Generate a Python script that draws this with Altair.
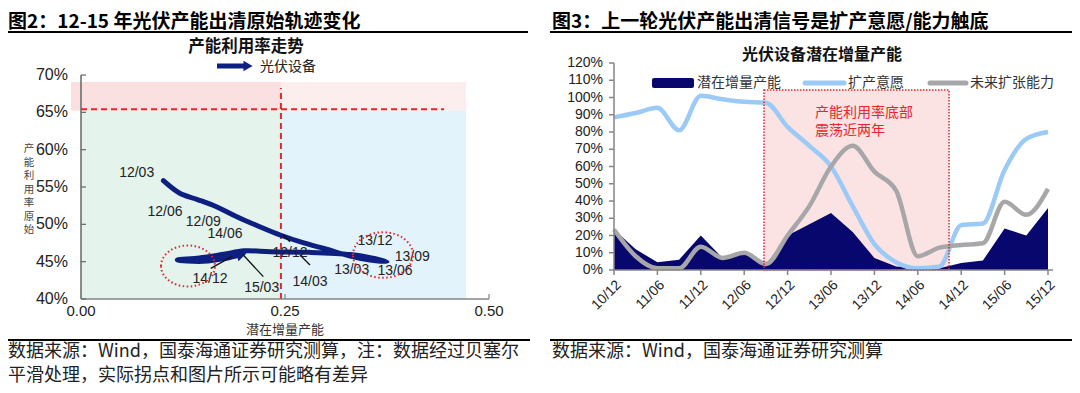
import altair as alt
import pandas as pd

CJK = "Noto Sans CJK SC"
LAT = "Liberation Sans"
NAVY = "#0d1f80"
AREA_NAVY = "#08076e"
BLUE = "#9ccaf6"
GRAY = "#a7a7aa"
RED = "#e6262c"
AXC = "#858585"

# ---------------- Figure 2 data: 产能利用率走势 ----------------
traj_x = [0.101, 0.121, 0.142, 0.166, 0.191, 0.219, 0.244, 0.272, 0.301, 0.330, 0.354, 0.375,
          0.356, 0.330, 0.280, 0.232, 0.200, 0.175, 0.145, 0.118, 0.150, 0.180, 0.192]
traj_y = [55.84, 54.16, 53.35, 52.36, 51.02, 49.68, 48.57, 47.54, 46.66, 45.76, 45.22, 45.00,
          45.50, 45.95, 46.25, 46.34, 46.45, 46.00, 45.50, 45.22, 45.05, 45.50, 45.80]
arrow_x = [0.197]
arrow_y = [45.95]

label_text = ["12/03", "12/06", "12/09", "14/06", "14/12", "15/03",
              "12/12", "14/03", "13/03", "13/06", "13/09", "13/12"]
label_x = [0.0682, 0.1029, 0.1499, 0.1765, 0.1581, 0.2214,
           0.2561, 0.2806, 0.3317, 0.3848, 0.4060, 0.3603]
label_y = [56.83, 51.70, 50.35, 48.70, 42.63, 41.51,
           46.12, 42.28, 43.88, 43.70, 45.60, 47.81]

lead_x1 = [0.159, 0.2234, 0.2806, 0.2479]
lead_y1 = [44.11, 42.99, 44.55, 48.57]
lead_x2 = [0.1847, 0.1989, 0.2684, 0.2561]
lead_y2 = [45.67, 45.89, 45.89, 47.67]

circle_x = [0.1311, 0.3701]
circle_y = [44.42, 45.89]

zone_name = ["pinkL", "pinkR", "green", "blue"]
zone_x1 = [-0.0123, 0.246, 0.0, 0.246]
zone_x2 = [0.246, 0.472, 0.246, 0.472]
zone_y1 = [65.2, 65.2, 40.0, 40.0]
zone_y2 = [69.06, 69.06, 65.2, 65.2]
zone_colors = ["#fbe0e1", "#fdeeee", "#e4f3ec", "#e2f3fc"]

util_line_y = [65.4]
util_line_x = [0.0, 0.445]
cap_line_x = [0.245]
cap_line_y = [40.0, 68.26]

left_yticks = [40, 45, 50, 55, 60, 65, 70]
left_ylabels = ["40%", "45%", "50%", "55%", "60%", "65%", "70%"]
left_xticks = [0.0, 0.25, 0.5]
left_xlabels = ["0.00", "0.25", "0.50"]

# ---------------- Figure 3 data: 光伏设备潜在增量产能 ----------------
quarters = ["10/12", "11/03", "11/06", "11/09", "11/12", "12/03", "12/06", "12/09",
            "12/12", "13/03", "13/06", "13/09", "13/12", "14/03", "14/06", "14/09",
            "14/12", "15/03", "15/06", "15/09", "15/12"]
potential = [23.5, 12, 4.5, 6, 20, 7, 10, 3, 20, 26.5, 33, 22, 7, 2, 1, 1, 4, 5.5, 24, 20, 36]
willingness = [88.5, 91, 94, 81, 101, 99, 97.5, 97, 83, 72, 60, 37, 15, 4.5, 1, 2, 26, 27, 58, 76, 80]
ability = [23.5, 8, 1, 1, 13.5, 7, 10, 3.5, 20, 37, 60, 72, 57, 46, 8, 13, 14.5, 15.5, 39.5, 32, 47]
box_x = [6.91, 15.44]
box_y = [0, 104.3]
note_text = ["产能利用率底部", "震荡近两年"]
note_x = [9.26, 9.26]
note_y = [91.0, 80.6]
right_xticks = list(range(0, 21, 2))
right_xlabels = [quarters[i] for i in right_xticks]
right_yticks = list(range(0, 121, 10))
right_ylabels = [f"{v}%" for v in right_yticks]

# ---------------- helpers ----------------
one = pd.DataFrame({"k": [0]})


def txt(x, y, s, size, color="#222", font=CJK, weight="normal", align="left", baseline="middle", **kw):
    return alt.Chart(one).mark_text(text=s, font=font, fontSize=size, color=color, fontWeight=weight,
                                    align=align, baseline=baseline, **kw).encode(
        x=alt.value(x), y=alt.value(y))


def hrule(x1, x2, y, color="#000", width=2.0):
    return alt.Chart(one).mark_rule(color=color, strokeWidth=width).encode(
        x=alt.value(x1), x2=alt.value(x2), y=alt.value(y))


def vrule(x, y1, y2, color="#000", width=2.0):
    return alt.Chart(one).mark_rule(color=color, strokeWidth=width).encode(
        x=alt.value(x), y=alt.value(y1), y2=alt.value(y2))


# ---------------- left chart ----------------
xsL = alt.Scale(domain=[0, 0.5], range=[73, 481], nice=False, zero=False)
ysL = alt.Scale(domain=[40, 70], range=[291, 67], nice=False, zero=False)


def XL(f):
    return alt.X(f, scale=xsL, axis=None)


def YL(f):
    return alt.Y(f, scale=ysL, axis=None)


zdf = pd.DataFrame({"z": zone_name, "x1": zone_x1, "x2": zone_x2, "y1": zone_y1, "y2": zone_y2})
zones = alt.Chart(zdf).mark_rect().encode(
    x=XL("x1:Q"), x2="x2:Q", y=YL("y1:Q"), y2="y2:Q",
    color=alt.Color("z:N", scale=alt.Scale(domain=zone_name, range=zone_colors), legend=None))

hl = alt.Chart(pd.DataFrame({"x1": [util_line_x[0]], "x2": [util_line_x[1]], "y": util_line_y})).mark_rule(
    color=RED, strokeDash=[6, 4], strokeWidth=2).encode(x=XL("x1:Q"), x2="x2:Q", y=YL("y:Q"))
vl = alt.Chart(pd.DataFrame({"x": cap_line_x, "y1": [cap_line_y[0]], "y2": [cap_line_y[1]]})).mark_rule(
    color=RED, strokeDash=[6, 4], strokeWidth=2).encode(x=XL("x:Q"), y=YL("y1:Q"), y2="y2:Q")

# axes (drawn from the tick arrays through the scales)
lyt = pd.DataFrame({"t": left_yticks, "s": left_ylabels})
lxt = pd.DataFrame({"t": left_xticks, "s": left_xlabels})
l_ydom = vrule(73, 67, 291, color="#666", width=1.5)
l_xdom = hrule(73, 481, 291, color=AXC, width=1.5)
l_ytk = alt.Chart(lyt).mark_rule(color="#666", strokeWidth=1.2).encode(
    y=YL("t:Q"), x=alt.value(73), x2=alt.value(78))
l_xtk = alt.Chart(lxt).mark_rule(color=AXC, strokeWidth=1.2).encode(
    x=XL("t:Q"), y=alt.value(291), y2=alt.value(286))
l_ylab = alt.Chart(lyt).mark_text(font=LAT, fontSize=16, color="#222", align="right", baseline="middle").encode(
    y=YL("t:Q"), x=alt.value(60), text="s:N")
l_xlab = alt.Chart(lxt).mark_text(font=LAT, fontSize=15, color="#222", align="center", baseline="top").encode(
    x=XL("t:Q"), y=alt.value(296), text="s:N")

traj = alt.Chart(pd.DataFrame({"x": traj_x, "y": traj_y, "o": list(range(len(traj_x)))})).mark_line(
    interpolate="catmull-rom", strokeWidth=5, strokeCap="round", strokeJoin="round", color=NAVY).encode(
    x=XL("x:Q"), y=YL("y:Q"), order="o:Q")
arrow = alt.Chart(pd.DataFrame({"x": arrow_x, "y": arrow_y})).mark_point(
    shape="triangle-right", filled=True, size=130, color=NAVY, opacity=1, angle=345).encode(
    x=XL("x:Q"), y=YL("y:Q"))

leads = alt.Chart(pd.DataFrame({"x1": lead_x1, "y1": lead_y1, "x2": lead_x2, "y2": lead_y2})).mark_rule(
    color="#111", strokeWidth=1.3).encode(x=XL("x1:Q"), y=YL("y1:Q"), x2="x2:Q", y2="y2:Q")

labels = alt.Chart(pd.DataFrame({"t": label_text, "x": label_x, "y": label_y})).mark_text(
    font=LAT, fontSize=14, color="#222", align="center", baseline="middle").encode(
    x=XL("x:Q"), y=YL("y:Q"), text="t:N")

ELLIPSE = ("M-1,0 C-1,-0.42 -0.5523,-0.76 0,-0.76 C0.5523,-0.76 1,-0.42 1,0 "
           "C1,0.42 0.5523,0.76 0,0.76 C-0.5523,0.76 -1,0.42 -1,0 Z")
circ_df = pd.DataFrame({"x": circle_x, "y": circle_y})
circ1 = alt.Chart(circ_df.iloc[[0]]).mark_point(
    shape=ELLIPSE, size=2916, filled=False, stroke=RED, strokeWidth=2, strokeDash=[1.5, 2.5], opacity=1).encode(
    x=XL("x:Q"), y=YL("y:Q"))
circ2 = alt.Chart(circ_df.iloc[[1]]).mark_point(
    shape=ELLIPSE, size=3600, filled=False, stroke=RED, strokeWidth=2, strokeDash=[1.5, 2.5], opacity=1).encode(
    x=XL("x:Q"), y=YL("y:Q"))

leg_line = alt.Chart(one).mark_rule(color=NAVY, strokeWidth=5).encode(
    x=alt.value(209), x2=alt.value(236), y=alt.value(58))
leg_head = alt.Chart(one).mark_point(shape="triangle-right", filled=True, size=110, color=NAVY,
                                     opacity=1).encode(x=alt.value(240), y=alt.value(58))

left = alt.layer(
    zones, hl, vl, l_ydom, l_xdom, l_ytk, l_xtk, l_ylab, l_xlab,
    traj, arrow, leads, labels, circ1, circ2,
    txt(0, 19.5, "图2：12-15 年光伏产能出清原始轨迹变化", 19, color="#000", weight="bold", baseline="alphabetic"),
    hrule(0, 520, 24),
    txt(238, 39, "产能利用率走势", 16.5, color="#111", weight="bold", align="center"),
    leg_line, leg_head,
    txt(252, 59, "光伏设备", 14, color="#222"),
    txt(21, 136, "产\n能\n利\n用\n率\n原\n始", 10.5, color="#444", align="center", baseline="top",
        lineBreak="\n", lineHeight=13.5),
    txt(277, 322, "潜在增量产能", 13, color="#333", align="center"),
    hrule(0, 522, 332),
    txt(0, 344, "数据来源：Wind，国泰海通证券研究测算，注：数据经过贝塞尔", 18, color="#222"),
    txt(0, 368, "平滑处理，实际拐点和图片所示可能略有差异", 18, color="#222"),
)

# ---------------- right chart ----------------
xsR = alt.Scale(domain=[0, 20], range=[606, 1040], nice=False, zero=False)
ysR = alt.Scale(domain=[0, 120], range=[262, 55], nice=False, zero=False)


def XR(f):
    return alt.X(f, scale=xsR, axis=None)


def YR(f):
    return alt.Y(f, scale=ysR, axis=None)


rdf = pd.DataFrame({"i": list(range(len(quarters))), "q": quarters, "p": potential,
                    "w": willingness, "a": ability})
bdf = pd.DataFrame({"x1": [box_x[0]], "x2": [box_x[1]], "y1": [box_y[0]], "y2": [box_y[1]]})

box_fill = alt.Chart(bdf).mark_rect(fill="#fce3e3").encode(
    x=XR("x1:Q"), x2="x2:Q", y=YR("y1:Q"), y2="y2:Q")
box_edge = alt.Chart(bdf).mark_rect(filled=False, fill=None, stroke=RED, strokeWidth=1.5,
                                    strokeDash=[1.5, 1.5]).encode(
    x=XR("x1:Q"), x2="x2:Q", y=YR("y1:Q"), y2="y2:Q")

area = alt.Chart(rdf).mark_area(color=AREA_NAVY, interpolate="linear", opacity=1).encode(
    x=XR("i:Q"), y=alt.Y("p:Q", scale=ysR, axis=None, stack=None))
blue = alt.Chart(rdf).mark_line(color=BLUE, strokeWidth=4.5, interpolate="monotone").encode(
    x=XR("i:Q"), y=YR("w:Q"))
gray = alt.Chart(rdf).mark_line(color=GRAY, strokeWidth=4.5, interpolate="monotone").encode(
    x=XR("i:Q"), y=YR("a:Q"))

notes = alt.Chart(pd.DataFrame({"t": note_text, "x": note_x, "y": note_y})).mark_text(
    font=CJK, fontSize=14, color=RED, align="left", baseline="middle").encode(
    x=XR("x:Q"), y=YR("y:Q"), text="t:N")

ryt = pd.DataFrame({"t": right_yticks, "s": right_ylabels})
rxt = pd.DataFrame({"t": right_xticks, "s": right_xlabels})
r_ydom = vrule(606, 55, 262, color=AXC, width=1.5)
r_xdom = hrule(606, 1045, 262, color=AXC, width=1.5)
r_ytk = alt.Chart(ryt).mark_rule(color=AXC, strokeWidth=1.5).encode(
    y=YR("t:Q"), x=alt.value(601), x2=alt.value(606))
r_xtk = alt.Chart(rxt).mark_rule(color=AXC, strokeWidth=1.5).encode(
    x=XR("t:Q"), y=alt.value(262), y2=alt.value(267))
r_ylab = alt.Chart(ryt).mark_text(font=LAT, fontSize=14, color="#222", align="right", baseline="middle").encode(
    y=YR("t:Q"), x=alt.value(595), text="s:N")
r_xlab = alt.Chart(rxt).mark_text(font=LAT, fontSize=14, color="#222", align="right", baseline="middle",
                                  angle=315, xOffset=5).encode(
    x=XR("t:Q"), y=alt.value(275), text="s:N")

leg_rect = alt.Chart(one).mark_rect(color=AREA_NAVY, cornerRadius=2).encode(
    x=alt.value(644), x2=alt.value(686), y=alt.value(70), y2=alt.value(80))
leg_blue = alt.Chart(one).mark_rule(color=BLUE, strokeWidth=5, strokeCap="round").encode(
    x=alt.value(797), x2=alt.value(836), y=alt.value(75))
leg_gray = alt.Chart(one).mark_rule(color=GRAY, strokeWidth=5, strokeCap="round").encode(
    x=alt.value(922), x2=alt.value(958), y=alt.value(75))

right = alt.layer(
    box_fill, area, blue, gray, box_edge, notes,
    r_ydom, r_xdom, r_ytk, r_xtk, r_ylab, r_xlab,
    txt(544, 19.5, "图3：上一轮光伏产能出清信号是扩产意愿/能力触底", 19, color="#000", weight="bold",
        baseline="alphabetic"),
    hrule(542, 1064, 24),
    txt(814, 47, "光伏设备潜在增量产能", 16, color="#111", weight="bold", align="center"),
    leg_rect, txt(689, 75, "潜在增量产能", 14, color="#333"),
    leg_blue, txt(840, 75, "扩产意愿", 14, color="#333"),
    leg_gray, txt(962, 75, "未来扩张能力", 14, color="#333"),
    hrule(542, 1064, 332),
    txt(544, 344, "数据来源：Wind，国泰海通证券研究测算", 18, color="#222"),
)

chart = alt.layer(left, right).resolve_scale(
    x="independent", y="independent"
).properties(
    width=1064, height=377, padding=0, autosize=alt.AutoSizeParams(type="none")
).configure_view(stroke=None)

chart.save("out.html", embed_options={"renderer": "svg", "actions": False})
